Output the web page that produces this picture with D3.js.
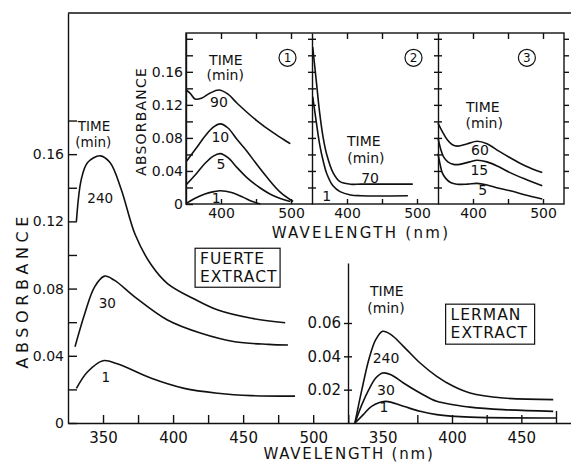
<!DOCTYPE html>
<html lang="en">
<head>
    <meta charset="UTF-8">
    <title>Absorbance vs wavelength</title>
    <script src="https://d3js.org/d3.v7.min.js"></script>
    <style type="text/css">
        body { margin: 0; background: #fff; }
        svg text { font-family: "DejaVu Sans", sans-serif; fill: #111; }
        .axis path, .axis line { stroke: #111; stroke-width: 1.4; }
        .curve { fill: none; stroke: #111; stroke-width: 1.6; }
    </style>
</head>
<body>
<div id="chartArea"></div>
<script type="text/javascript">
    // ---- data: [wavelength nm, absorbance] ----
    // Fuerte extract (main plot), time in min
    var fuerte240 = [[331, 0.120], [334.5, 0.145], [339, 0.155], [348, 0.159], [355, 0.155], [363, 0.139], [373, 0.112], [384.5, 0.094], [396, 0.083], [415.5, 0.0736], [432, 0.0672], [456, 0.0623], [480, 0.0597]];
    var fuerte30 = [[330, 0.0454], [337, 0.0652], [344, 0.081], [351, 0.0874], [358, 0.085], [372.6, 0.0751], [396, 0.0613], [420, 0.0534], [444, 0.0484], [468, 0.0468], [482, 0.0464]];
    var fuerte1 = [[331, 0.0206], [339, 0.0305], [350, 0.0371], [360.7, 0.0351], [384.5, 0.0266], [408, 0.0206], [432, 0.0177], [456, 0.0163], [487, 0.016]];

    // Lerman extract
    var lerman240 = [[330, 0], [335, 0.020], [340, 0.038], [345, 0.050], [350, 0.055], [356, 0.053], [365, 0.046], [377, 0.036], [389, 0.028], [401, 0.022], [413, 0.018], [437, 0.015], [473, 0.014]];
    var lerman30 = [[330, 0], [335, 0.011], [340, 0.020], [345, 0.027], [350, 0.030], [356, 0.029], [365, 0.024], [377, 0.018], [389, 0.013], [401, 0.011], [413, 0.0095], [437, 0.008], [473, 0.007]];
    var lerman1 = [[330, 0], [336, 0.005], [342, 0.010], [352, 0.013], [365, 0.010], [377, 0.007], [389, 0.005], [413, 0.0035], [475, 0.003]];

    // insets 1, 2, 3
    var inset1t90 = [[350, 0.138], [356, 0.134], [363, 0.127], [372, 0.128], [384, 0.134], [397, 0.138], [410, 0.133], [423, 0.122], [451, 0.101], [475, 0.086], [499, 0.073]];
    var inset1t10 = [[351, 0.052], [365, 0.068], [377, 0.082], [389, 0.093], [399, 0.097], [410, 0.092], [423, 0.078], [437, 0.064], [451, 0.048], [466, 0.032], [485, 0.014], [503, 0.003]];
    var inset1t5 = [[351, 0.024], [365, 0.037], [377, 0.049], [389, 0.058], [399, 0.061], [410, 0.056], [423, 0.044], [437, 0.032], [455, 0.020], [475, 0.010], [499, 0.003]];
    var inset1t1 = [[351, 0.001], [363, 0.007], [377, 0.012], [390, 0.015], [399, 0.016], [415, 0.014], [432, 0.008], [445, 0.003], [456, 0.0]];
    var inset2t70 = [[351, 0.19], [356, 0.15], [361, 0.11], [366, 0.08], [371, 0.060], [380, 0.038], [390, 0.027], [405, 0.024], [420, 0.024], [494, 0.024]];
    var inset2t1 = [[351, 0.13], [356, 0.10], [361, 0.072], [366, 0.052], [371, 0.037], [380, 0.022], [390, 0.015], [405, 0.011], [420, 0.010], [487, 0.010]];
    var inset3t60 = [[350, 0.098], [356, 0.088], [363, 0.078], [370, 0.072], [378, 0.070], [392, 0.073], [406, 0.076], [420, 0.073], [437, 0.064], [453, 0.056], [475, 0.046], [499, 0.038]];
    var inset3t15 = [[350, 0.080], [354, 0.066], [358, 0.057], [364, 0.051], [372, 0.048], [381, 0.048], [395, 0.051], [406, 0.053], [420, 0.051], [437, 0.045], [453, 0.038], [475, 0.030], [499, 0.022]];
    var inset3t5 = [[350, 0.061], [353, 0.048], [356, 0.038], [361, 0.031], [368, 0.026], [377, 0.024], [392, 0.024], [406, 0.025], [420, 0.023], [437, 0.019], [453, 0.016], [475, 0.011], [499, 0.006]];

    // tick values / labels
    var mainXTicks = [350, 375, 400, 425, 450, 475, 500, 525];
    var mainXLabels = [350, 400, 450, 500];
    var mainYTicks = [0, 0.02, 0.04, 0.06, 0.08, 0.10, 0.12, 0.14, 0.16, 0.18];
    var mainYLabels = [0, 0.04, 0.08, 0.12, 0.16];
    var lermanXTicks = [375, 400, 425, 450, 475];
    var lermanXLabels = [350, 400, 450];
    var lermanYTicks = [0.02, 0.04, 0.06];
    var insetXTicks = [400, 450, 500];
    var insetXLabels = [400, 500];
    var insetYTicks = [0, 0.02, 0.04, 0.06, 0.08, 0.10, 0.12, 0.14, 0.16, 0.18, 0.20];
    var insetYLabels = [0, 0.04, 0.08, 0.12, 0.16];

    // curve labels: [wavelength, absorbance, text]
    var fuerteNotes = [[343.6, 0.1768, 'TIME'], [343, 0.1672, '(min)'], [348, 0.134, '240'], [353, 0.0714, '30'], [352, 0.0274, '1']];
    var lermanNotes = [[353, 0.079, 'TIME'], [352.4, 0.069, '(min)'], [352.4, 0.039, '240'], [352.4, 0.020, '30'], [351, 0.0095, '1']];
    var inset1Notes = [[407, 0.174, 'TIME'], [406, 0.156, '(min)'], [397, 0.123, '90'], [399, 0.081, '10'], [400, 0.048, '5'], [393, 0.007, '1']];
    var inset2Notes = [[424, 0.076, 'TIME'], [427, 0.056, '(min)'], [433, 0.031, '70'], [371, 0.010, '1']];
    var inset3Notes = [[414, 0.117, 'TIME'], [416, 0.098, '(min)'], [410, 0.065, '60'], [409, 0.041, '15'], [414, 0.017, '5']];

    var w = 571, h = 463;
    var svg = d3.select('#chartArea').append('svg')
        .attr('width', w)
        .attr('height', h);

    var fmt = function (v) { return v === 0 ? '0' : v.toFixed(2); };
    var near = function (list, v) { return list.some(function (a) { return Math.abs(a - v) < 1e-6; }); };

    function drawCurve(g, data, x, y) {
        var line = d3.line()
            .x(function (d) { return x(d[0]); })
            .y(function (d) { return y(d[1]); })
            .curve(d3.curveCatmullRom.alpha(0.5));
        g.append('path').attr('class', 'curve').attr('d', line(data));
    }

    function drawNotes(g, notes, x, y, size) {
        g.selectAll(null)
            .data(notes)
            .enter()
            .append('text')
            .attr('x', function (d) { return x(d[0]); })
            .attr('y', function (d) { return y(d[1]); })
            .attr('text-anchor', 'middle')
            .attr('dominant-baseline', 'central')
            .style('font-size', size + 'px')
            .text(function (d) { return d[2]; });
    }

    // ---------- main plot (Fuerte) ----------
    var xMain = d3.scaleLinear().domain([325, 684]).range([68, 571]);
    var yMain = d3.scaleLinear().domain([0, 0.244]).range([423, 13]);

    var gx = svg.append('g').attr('class', 'axis')
        .attr('transform', 'translate(0,' + yMain(0) + ')')
        .call(d3.axisBottom(xMain).tickValues(mainXTicks).tickSizeInner(-8).tickSizeOuter(0).tickPadding(9)
            .tickFormat(function (d) { return near(mainXLabels, d) ? d : ''; }));
    gx.selectAll('text').style('font-size', '15px');

    var gy = svg.append('g').attr('class', 'axis')
        .attr('transform', 'translate(' + xMain(325) + ',0)')
        .call(d3.axisLeft(yMain).tickValues(mainYTicks).tickSizeInner(-9).tickSizeOuter(0).tickPadding(4)
            .tickFormat(function (d) { return near(mainYLabels, d) ? fmt(d) : ''; }));
    gy.selectAll('text').style('font-size', '14px');

    // top frame line
    svg.append('line')
        .attr('x1', xMain.range()[0]).attr('x2', xMain.range()[1])
        .attr('y1', yMain.range()[1]).attr('y2', yMain.range()[1])
        .attr('stroke', '#111').attr('stroke-width', 1.4);

    svg.append('text')
        .attr('transform', 'translate(22,' + yMain(0.079) + ') rotate(-90)')
        .attr('text-anchor', 'middle')
        .attr('dominant-baseline', 'central')
        .style('font-size', '16px')
        .style('letter-spacing', '4.6px')
        .text('ABSORBANCE');

    svg.append('text')
        .attr('x', 349).attr('y', 454)
        .attr('text-anchor', 'middle')
        .attr('dominant-baseline', 'central')
        .style('font-size', '15px')
        .style('letter-spacing', '1.8px')
        .text('WAVELENGTH (nm)');

    var gMain = svg.append('g');
    [fuerte240, fuerte30, fuerte1].forEach(function (s) { drawCurve(gMain, s, xMain, yMain); });
    drawNotes(gMain, fuerteNotes, xMain, yMain, 13.5);

    // extract boxes
    function extractBox(x0, y0, bw, bh, lines) {
        var b = svg.append('g');
        b.append('rect').attr('x', x0).attr('y', y0).attr('width', bw).attr('height', bh)
            .attr('fill', '#fff').attr('stroke', '#111').attr('stroke-width', 1.2);
        b.selectAll(null).data(lines).enter().append('text')
            .attr('x', x0 + 5)
            .attr('y', function (d, i) { return y0 + 11 + i * 18; })
            .attr('dominant-baseline', 'central')
            .style('font-size', '15.5px')
            .style('letter-spacing', '1px')
            .text(function (d) { return d; });
    }
    extractBox(xMain(415.7), yMain(0.104), 85, 39, ['FUERTE', 'EXTRACT']);

    // ---------- Lerman plot ----------
    var xLer = d3.scaleLinear().domain([325, 475]).range([348, 556]);
    var yLer = d3.scaleLinear().domain([0, 0.096]).range([423, 263]);

    var gLx = svg.append('g').attr('class', 'axis')
        .attr('transform', 'translate(0,' + yLer(0) + ')')
        .call(d3.axisBottom(xLer).tickValues(lermanXTicks.concat([350])).tickSizeInner(-8).tickSizeOuter(0).tickPadding(9)
            .tickFormat(function (d) { return near(lermanXLabels, d) ? d : ''; }));
    gLx.select('.domain').remove();
    gLx.selectAll('.tick line').attr('y2', function (d) { return d === 350 ? 0 : (d === 475 ? -12 : -8); });
    gLx.selectAll('text').style('font-size', '15px');

    var gLy = svg.append('g').attr('class', 'axis')
        .attr('transform', 'translate(' + xLer(325) + ',0)')
        .call(d3.axisLeft(yLer).tickValues(lermanYTicks).tickSizeOuter(0).tickSizeInner(4).tickPadding(3)
            .tickFormat(fmt));
    gLy.selectAll('.tick line').attr('x1', 4);
    gLy.selectAll('text').style('font-size', '15px');

    var gLer = svg.append('g');
    [lerman240, lerman30, lerman1].forEach(function (s) { drawCurve(gLer, s, xLer, yLer); });
    drawNotes(gLer, lermanNotes, xLer, yLer, 14);
    extractBox(xLer(395.4), yLer(0.0713), 89, 40, ['LERMAN', 'EXTRACT']);

    // ---------- inset ----------
    var insetLefts = [186, 312, 438];
    var panelW = 126;
    var yIn = d3.scaleLinear().domain([0, 0.207]).range([204, 33]);
    var insetSeries = [[inset1t90, inset1t10, inset1t5, inset1t1], [inset2t70, inset2t1], [inset3t60, inset3t15, inset3t5]];
    var insetNotes = [inset1Notes, inset2Notes, inset3Notes];

    var gIn = svg.append('g');
    gIn.append('rect')
        .attr('x', insetLefts[0]).attr('y', yIn.range()[1])
        .attr('width', panelW * 3).attr('height', yIn.range()[0] - yIn.range()[1])
        .attr('fill', '#fff').attr('stroke', '#111').attr('stroke-width', 1.4);

    insetLefts.forEach(function (left, i) {
        var xIn = d3.scaleLinear().domain([350, 530]).range([left, left + panelW]);
        var gp = gIn.append('g');

        // divider / left axis
        if (i === 0) {
            var ga = gp.append('g').attr('class', 'axis')
                .attr('transform', 'translate(' + left + ',0)')
                .call(d3.axisLeft(yIn).tickValues(insetYTicks).tickSizeInner(-7).tickSizeOuter(0).tickPadding(3)
                    .tickFormat(function (d) { return near(insetYLabels, d) ? fmt(d) : ''; }));
            ga.selectAll('text').style('font-size', '14px');
        } else {
            var gd = gp.append('g').attr('class', 'axis')
                .attr('transform', 'translate(' + left + ',0)')
                .call(d3.axisLeft(yIn).tickValues(insetYTicks.slice(1)).tickSizeInner(4).tickSizeOuter(0).tickFormat(''));
            gd.selectAll('.tick line').attr('x1', 4);
        }

        var gb = gp.append('g').attr('class', 'axis')
            .attr('transform', 'translate(0,' + yIn(0) + ')')
            .call(d3.axisBottom(xIn).tickValues(insetXTicks).tickSizeInner(-5).tickSizeOuter(0).tickPadding(4)
                .tickFormat(function (d) { return near(insetXLabels, d) ? d : ''; }));
        gb.select('.domain').remove();
        gb.selectAll('text').style('font-size', '14px');

        var gt = gp.append('g').attr('class', 'axis')
            .attr('transform', 'translate(0,' + yIn.range()[1] + ')')
            .call(d3.axisTop(xIn).tickValues(insetXTicks).tickSizeInner(-6).tickSizeOuter(0).tickFormat(''));
        gt.select('.domain').remove();

        insetSeries[i].forEach(function (s) { drawCurve(gp, s, xIn, yIn); });
        drawNotes(gp, insetNotes[i], xIn, yIn, 14);

        // circled panel number
        var cx = xIn(i === 2 ? 477 : 495), cy = yIn(0.177);
        gp.append('circle').attr('cx', cx).attr('cy', cy).attr('r', 8.5)
            .attr('fill', 'none').attr('stroke', '#111').attr('stroke-width', 1.2);
        gp.append('text').attr('x', cx).attr('y', cy)
            .attr('text-anchor', 'middle').attr('dominant-baseline', 'central')
            .style('font-size', '12px').text(i + 1);
    });

    // right border ticks (outward)
    var gr = gIn.append('g').attr('class', 'axis')
        .attr('transform', 'translate(' + (insetLefts[2] + panelW) + ',0)')
        .call(d3.axisRight(yIn).tickValues(insetYTicks.slice(1)).tickSizeInner(5).tickSizeOuter(0).tickFormat(''));
    gr.select('.domain').remove();

    gIn.append('text')
        .attr('transform', 'translate(141,' + yIn(0.1) + ') rotate(-90)')
        .attr('text-anchor', 'middle')
        .attr('dominant-baseline', 'central')
        .style('font-size', '14px')
        .style('letter-spacing', '1.2px')
        .text('ABSORBANCE');

    gIn.append('text')
        .attr('x', 361).attr('y', 233)
        .attr('text-anchor', 'middle')
        .attr('dominant-baseline', 'central')
        .style('font-size', '15px')
        .style('letter-spacing', '2.3px')
        .text('WAVELENGTH (nm)');
</script>
</body>
</html>
